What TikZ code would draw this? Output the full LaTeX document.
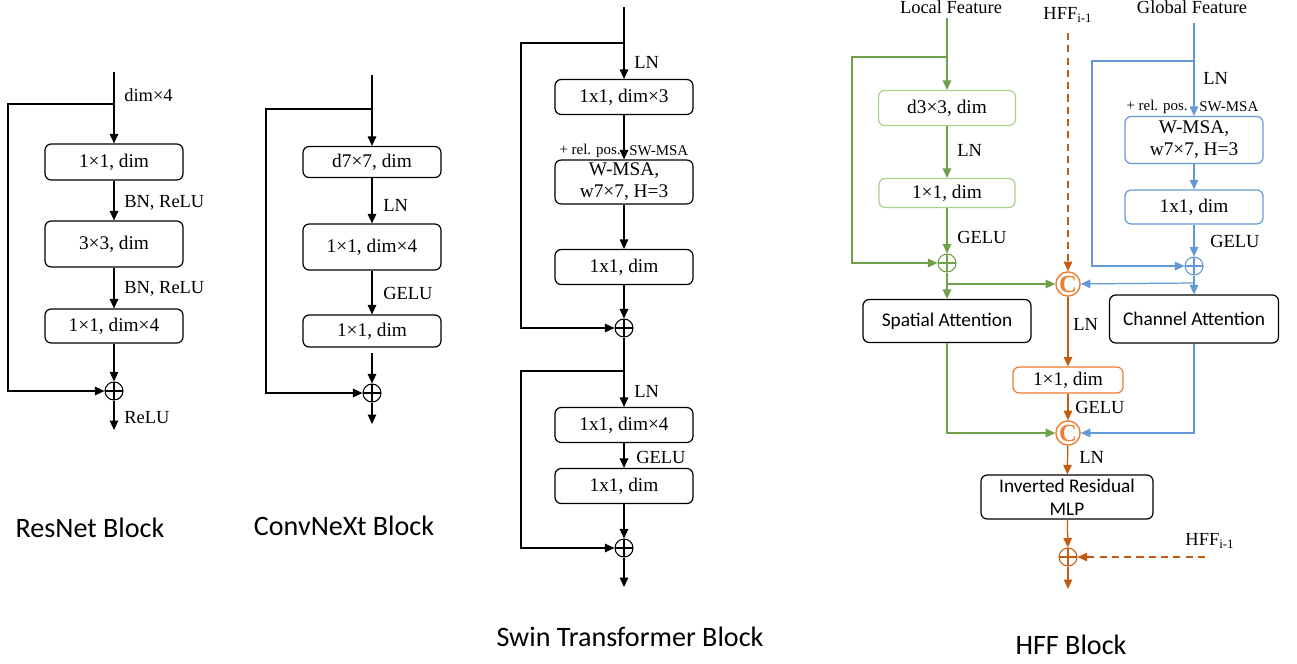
\documentclass[tikz,border=0pt]{standalone}
\usepackage{fontspec}
\setmainfont{Liberation Serif}
\newfontfamily\calfont{Carlito}
\usetikzlibrary{arrows.meta}
\definecolor{hffgreen}{RGB}{112,160,72}
\definecolor{hfflight}{RGB}{169,209,142}
\definecolor{hffblue}{RGB}{100,152,215}
\definecolor{hffbrown}{RGB}{197,90,17}
\definecolor{hfforange}{RGB}{237,125,49}
\tikzstyle{block}=[draw, rounded corners=3.5pt, line width=0.7pt, minimum width=2.76cm, align=center, inner sep=1pt, font=\fontsize{11}{12.5}\selectfont]
\tikzstyle{attn}=[block, font=\calfont\fontsize{11}{13}\selectfont]
\tikzstyle{wire}=[draw, line width=0.7pt]
\tikzstyle{flow}=[wire, -{Triangle[length=1.9mm, width=1.7mm]}]
\tikzstyle{dashflow}=[flow, dash pattern=on 4pt off 3pt]
\tikzstyle{lbl}=[anchor=west, inner sep=0pt, font=\fontsize{10.5}{12}\selectfont]
\tikzstyle{small}=[inner sep=0pt, font=\fontsize{8.5}{10}\selectfont]
\tikzstyle{blocktitle}=[inner sep=0pt, font=\calfont\fontsize{16}{18}\selectfont]
\tikzset{addop/.style={circle, draw=#1, line width=0.6pt, minimum size=0.36cm, inner sep=0pt,
    path picture={\draw[#1, line width=0.6pt] (path picture bounding box.north) -- (path picture bounding box.south)
      (path picture bounding box.west) -- (path picture bounding box.east);}},
  addop/.default=black}
\tikzstyle{catop}=[circle, draw=hfforange, line width=0.8pt, minimum size=0.4cm, inner sep=0pt, text=hfforange, font=\bfseries\fontsize{14}{14}\selectfont]

\begin{document}
\begin{tikzpicture}[x=0.02cm, y=-0.02cm]
\useasboundingbox (0,0) rectangle (1297,663);

% ResNet
\coordinate (r_in) at (114,72);
\coordinate (r_sp) at (114,104);
\node[block, minimum height=0.72cm] (r_1) at (114,162) {1×1, dim};
\node[block, minimum height=0.92cm] (r_2) at (114,244) {3×3, dim};
\node[block, minimum height=0.68cm] (r_3) at (114,326) {1×1, dim×4};
\node[addop] (r_add) at (114,391) {};
\coordinate (r_out) at (114,430);

\draw[wire] (r_in) -- (r_sp);
\draw[flow] (r_sp) -- (r_1);
\draw[flow] (r_1) -- (r_2);
\draw[flow] (r_2) -- (r_3);
\draw[flow] (r_3) -- (r_add);
\draw[flow] (r_add) -- (r_out);
\draw[flow] (r_sp) -- ++(-106,0) |- (r_add);

\node[lbl] at (124,95) {dim×4};
\node[lbl] at (124,203) {BN, ReLU};
\node[lbl] at (124,289) {BN, ReLU};
\node[lbl] at (124,418) {ReLU};
\node[blocktitle] at (90,528) {ResNet Block};

% ConvNeXt
\coordinate (c_in) at (372,75);
\coordinate (c_sp) at (372,109);
\node[block, minimum height=0.62cm] (c_1) at (372,162) {d7×7, dim};
\node[block, minimum height=0.92cm] (c_2) at (372,247) {1×1, dim×4};
\node[block, minimum height=0.64cm] (c_3) at (372,331) {1×1, dim};
\node[addop] (c_add) at (372,393) {};
\coordinate (c_out) at (372,424);

\draw[wire] (c_in) -- (c_sp);
\draw[flow] (c_sp) -- (c_1);
\draw[flow] (c_1) -- (c_2);
\draw[flow] (c_2) -- (c_3);
\draw[flow, shorten <=3pt] (c_3) -- (c_add);
\draw[flow] (c_add) -- (c_out);
\draw[flow] (c_sp) -- ++(-106,0) |- (c_add);

\node[lbl] at (383,205) {LN};
\node[lbl] at (383,293) {GELU};
\node[blocktitle] at (344,526) {ConvNeXt Block};

% Swin Transformer
\coordinate (s_in) at (624,7);
\coordinate (s_sp1) at (624,43);
\node[block, minimum height=0.70cm] (s_1) at (624,97) {1x1, dim×3};
\node[block, minimum height=0.88cm, inner sep=0pt] (s_2) at (624,182) {W-MSA,\\w7×7, H=3};
\node[block, minimum height=0.70cm] (s_3) at (624,267) {1x1, dim};
\node[addop] (s_add1) at (624,328) {};
\coordinate (s_sp2) at (624,371);
\node[block, minimum height=0.70cm] (s_4) at (624,425) {1x1, dim×4};
\node[block, minimum height=0.70cm] (s_5) at (624,486) {1x1, dim};
\node[addop] (s_add2) at (624,548) {};
\coordinate (s_out) at (624,587);

\draw[wire] (s_in) -- (s_sp1);
\draw[flow] (s_sp1) -- (s_1);
\draw[flow] (s_1) -- (s_2);
\draw[flow] (s_2) -- (s_3);
\draw[flow] (s_3) -- (s_add1);
\draw[flow] (s_sp1) -- ++(-103,0) |- (s_add1);
\draw[wire] (s_add1) -- (s_sp2);
\draw[flow] (s_sp2) -- (s_4);
\draw[flow] (s_4) -- (s_5);
\draw[flow] (s_5) -- (s_add2);
\draw[flow] (s_add2) -- (s_out);
\draw[flow] (s_sp2) -- ++(-103,0) |- (s_add2);

\node[lbl] at (634,62) {LN};
\node[small, anchor=east] at (621,151) {+ rel. pos.};
\node[small, anchor=west] at (629,151) {SW-MSA};
\node[lbl] at (634,391) {LN};
\node[lbl] at (636,457) {GELU};
\node[blocktitle] at (630,637) {Swin Transformer Block};

% HFF: local branch
\node[inner sep=0pt, font=\fontsize{10.5}{12}\selectfont] at (951,7) {Local Feature};
\coordinate (g_in) at (947,18);
\coordinate (g_sp) at (947,57);
\node[block, draw=hfflight, minimum width=2.74cm, minimum height=0.70cm] (g_1) at (947,108) {d3×3, dim};
\node[block, draw=hfflight, minimum width=2.72cm, minimum height=0.58cm] (g_2) at (947,193) {1×1, dim};
\node[addop=hffgreen] (g_add) at (947,263) {};
\coordinate (g_jn) at (947,284);
\node[attn, minimum width=3.36cm, minimum height=0.86cm] (sa) at (947,321) {Spatial Attention};

% HFF: global branch
\node[inner sep=0pt, font=\fontsize{10.5}{12}\selectfont] at (1192,7) {Global Feature};
\coordinate (b_in) at (1194,23);
\coordinate (b_sp) at (1194,61);
\node[block, draw=hffblue, minimum height=0.94cm, inner sep=0pt] (b_1) at (1194,140) {W-MSA,\\w7×7, H=3};
\node[block, draw=hffblue, minimum height=0.68cm] (b_2) at (1194,207) {1x1, dim};
\node[addop=hffblue] (b_add) at (1194,266) {};
\coordinate (b_jn) at (1194,283);
\node[attn, minimum width=3.38cm, minimum height=0.96cm] (ca) at (1194,319) {Channel Attention};

% HFF: fusion path
\node[inner sep=0pt, font=\fontsize{10.5}{12}\selectfont] at (1068,15) {HFF\textsubscript{i-1}};
\coordinate (o_src1) at (1068,33);
\node[catop] (cat1) at (1068,284) {C};
\node[block, draw=hfforange, minimum width=2.2cm, minimum height=0.52cm] (o_1) at (1068,380) {1×1, dim};
\node[catop] (cat2) at (1068,433) {C};
\node[attn, minimum width=3.44cm, minimum height=0.88cm, inner sep=0pt] (mlp) at (1067,497) {Inverted Residual\\MLP};
\node[addop=hffbrown] (o_add) at (1068,557) {};
\coordinate (o_out) at (1068,589);
\node[inner sep=0pt, font=\fontsize{10.5}{12}\selectfont] at (1210,541) {HFF\textsubscript{i-1}};
\coordinate (o_src2) at (1205,557);

\draw[wire, hffgreen] (g_in) -- (g_sp);
\draw[flow, hffgreen] (g_sp) -- (g_1);
\draw[flow, hffgreen] (g_1) -- (g_2);
\draw[flow, hffgreen] (g_2) -- (g_add);
\draw[flow, hffgreen] (g_sp) -- ++(-95,0) |- (g_add);
\draw[wire, hffgreen] (g_add) -- (g_jn);
\draw[flow, hffgreen] (g_jn) -- (sa);
\draw[flow, hffgreen] (g_jn) -- (cat1);
\draw[flow, hffgreen] (sa) |- (cat2);

\draw[wire, hffblue] (b_in) -- (b_sp);
\draw[flow, hffblue] (b_sp) -- (b_1);
\draw[flow, hffblue] (b_1) -- (b_2);
\draw[flow, hffblue] (b_2) -- (b_add);
\draw[flow, hffblue] (b_sp) -- ++(-102,0) |- (b_add);
\draw[wire, hffblue] (b_add) -- (b_jn);
\draw[flow, hffblue] (b_jn) -- (ca);
\draw[flow, hffblue] (b_jn) -- (cat1);
\draw[flow, hffblue] (ca) |- (cat2);

\draw[dashflow, hffbrown] (o_src1) -- (cat1);
\draw[flow, hffbrown] (cat1) -- (o_1);
\draw[flow, hffbrown] (o_1) -- (cat2);
\draw[flow, hffbrown] (cat2) -- (mlp);
\draw[flow, hffbrown] (mlp) -- (o_add);
\draw[flow, hffbrown] (o_add) -- (o_out);
\draw[dashflow, hffbrown] (o_src2) -- (o_add);

\node[lbl] at (957,150) {LN};
\node[lbl] at (957,237) {GELU};
\node[lbl] at (1203,78) {LN};
\node[small, anchor=east] at (1188,107) {+ rel. pos.};
\node[small, anchor=west] at (1199,107) {SW-MSA};
\node[lbl] at (1210,241) {GELU};
\node[lbl] at (1073,324) {LN};
\node[lbl] at (1075,407) {GELU};
\node[lbl] at (1079,457) {LN};
\node[blocktitle] at (1071,645) {HFF Block};
\end{tikzpicture}
\end{document}
